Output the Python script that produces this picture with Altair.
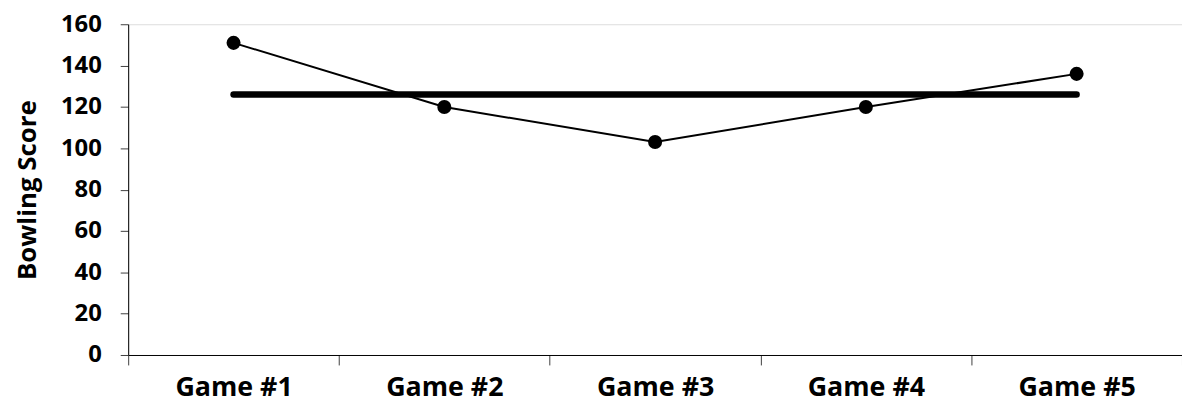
import altair as alt
import pandas as pd

games = ["Game #1", "Game #2", "Game #3", "Game #4", "Game #5"]
scores = [151, 120, 103, 120, 136]
y_ticks = [0, 20, 40, 60, 80, 100, 120, 140, 160]

df = pd.DataFrame({"game": games, "score": scores})

FONT = "Open Sans"

x_axis = alt.Axis(
    title=None,
    labelAngle=0,
    labelFont=FONT,
    labelFontSize=27,
    labelFontWeight="bold",
    labelColor="black",
    labelPadding=10,
    tickBand="extent",
    tickSize=10,
    tickColor="#404040",
    domainColor="black",
    grid=False,
)

y_axis = alt.Axis(
    title="Bowling Score",
    values=y_ticks,
    titleFont=FONT,
    titleFontSize=26,
    titleFontWeight="bold",
    titleColor="black",
    titlePadding=20,
    labelFont=FONT,
    labelFontSize=24,
    labelFontWeight="bold",
    labelColor="black",
    labelPadding=19,
    tickSize=8,
    tickColor="#404040",
    domainColor="black",
    grid=False,
)

x_scale = alt.Scale(type="band", paddingInner=0, paddingOuter=0)
y_scale = alt.Scale(domain=[0, 160], nice=False)

x_enc = alt.X("game:N", sort=games, bandPosition=0.5, scale=x_scale, axis=x_axis)

base = alt.Chart(df)

mean_line = (
    base.transform_joinaggregate(mean_score="mean(score)")
    .mark_line(color="black", strokeWidth=6.5, strokeCap="round")
    .encode(x=x_enc, y=alt.Y("mean_score:Q", scale=y_scale, axis=y_axis))
)

score_line = base.mark_line(color="black", strokeWidth=2).encode(
    x=x_enc, y=alt.Y("score:Q", scale=y_scale, axis=y_axis)
)
score_points = base.mark_point(filled=True, color="black", size=200, opacity=1).encode(
    x=x_enc, y=alt.Y("score:Q", scale=y_scale, axis=y_axis)
)

chart = (
    alt.layer(mean_line, score_line, score_points)
    .properties(
        width=1061,
        height=333,
        autosize=alt.AutoSizeParams(type="none"),
        padding={"left": 121, "top": 15, "right": 0, "bottom": 52},
    )
    .configure_view(stroke=None)
    .configure(background="white")
)

chart.save("out.html", embed_options={"renderer": "svg", "actions": False})
